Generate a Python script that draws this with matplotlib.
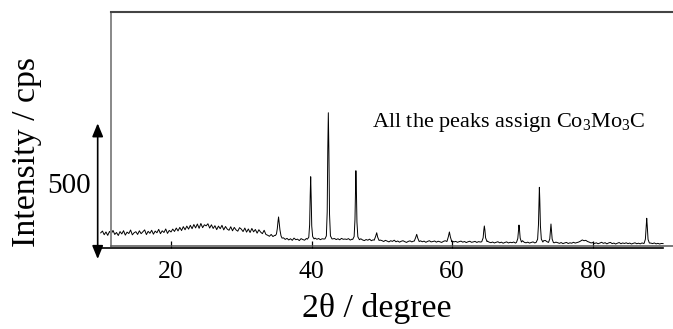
import numpy as np
import matplotlib
matplotlib.use("Agg")
import matplotlib.pyplot as plt

plt.rcParams['font.family'] = ['Liberation Serif', 'DejaVu Serif']
plt.rcParams['mathtext.fontset'] = 'custom'
plt.rcParams['mathtext.rm'] = 'Liberation Serif'
plt.rcParams['mathtext.it'] = 'Liberation Serif:italic'

# ---------------- data ----------------
# noisy background, 10.00 .. 90.00 deg in 0.25 deg steps (cps)
bg_start, bg_step = 10.0, 0.25
background = [
    118, 132, 104, 125, 99, 129, 112, 137, 106, 121, 98, 128, 110, 135, 101, 124, 113, 140, 103, 119,
    127, 106, 134, 112, 126, 141, 105, 130, 115, 138, 108, 132, 119, 145, 112, 134, 121, 148, 114, 137,
    125, 147, 129, 155, 133, 160, 136, 166, 142, 170, 147, 176, 150, 182, 156, 186, 153, 190, 158, 180,
    172, 188, 155, 180, 152, 173, 143, 170, 150, 176, 141, 167, 147, 138, 165, 134, 160, 141, 131, 158,
    147, 128, 155, 124, 148, 121, 152, 126, 144, 116, 142, 124, 112, 138, 106, 100, 92, 106, 90, 99,
    105, 150, 150, 85, 80, 68, 76, 64, 73, 61, 78, 66, 70, 59, 74, 67, 62, 75, 68, 70,
    70, 74, 78, 69, 75, 66, 73, 71, 64, 77, 70, 68, 72, 75, 67, 73, 65, 76, 69, 71,
    68, 74, 63, 70, 66, 72, 68, 61, 73, 64, 59, 67, 62, 70, 58, 65, 60, 66, 57, 63,
    59, 52, 61, 55, 49, 58, 53, 62, 50, 56, 47, 54, 58, 51, 45, 53, 57, 49, 55, 60,
    54, 48, 57, 50, 55, 46, 53, 58, 49, 52, 56, 47, 54, 50, 45, 53, 58, 51, 55, 57,
    56, 49, 53, 46, 51, 55, 47, 52, 44, 50, 54, 46, 49, 53, 45, 51, 48, 52, 55, 58,
    55, 47, 43, 48, 41, 46, 50, 42, 47, 39, 45, 49, 41, 46, 43, 48, 40, 47, 52, 60,
    58, 46, 42, 47, 40, 45, 49, 41, 46, 50, 44, 52, 58, 60, 50, 44, 48, 46, 42, 47,
    43, 38, 44, 36, 41, 45, 37, 42, 39, 46, 40, 44, 48, 55, 64, 58, 61, 52, 47, 41,
    44, 37, 42, 35, 40, 46, 38, 43, 34, 41, 45, 36, 40, 33, 39, 44, 35, 41, 37, 42,
    36, 40, 33, 38, 42, 35, 39, 34, 41, 37, 44, 39, 45, 40, 36, 41, 34, 38, 33, 37,
    36,
]

# diffraction peaks (Co3Mo3C), points read along each peak profile
peak_theta = [
    [34.85, 35.0, 35.12, 35.22, 35.3, 35.38, 35.5, 35.65, 35.8],
    [39.4, 39.6, 39.72, 39.8, 39.87, 39.94, 40.02, 40.15, 40.35],
    [41.9, 42.1, 42.22, 42.3, 42.38, 42.46, 42.55, 42.68, 42.9],
    [45.85, 46.05, 46.17, 46.25, 46.3, 46.37, 46.45, 46.58, 46.8],
    [48.9, 49.1, 49.26, 49.4, 49.6],
    [54.6, 54.8, 54.95, 55.1, 55.3],
    [59.25, 59.45, 59.6, 59.75, 59.95],
    [64.2, 64.4, 64.5, 64.57, 64.65, 64.75, 64.95],
    [69.15, 69.33, 69.43, 69.5, 69.57, 69.67, 69.85],
    [71.95, 72.15, 72.27, 72.35, 72.4, 72.46, 72.55, 72.68, 72.9],
    [73.7, 73.88, 73.98, 74.05, 74.12, 74.22, 74.4],
    [87.3, 87.48, 87.6, 87.67, 87.74, 87.86, 88.05],
]
peak_cps = [
    [98, 110, 150, 205, 240, 200, 140, 95, 78],
    [70, 85, 180, 400, 548, 390, 170, 90, 72],
    [72, 95, 280, 750, 1038, 740, 260, 95, 72],
    [68, 90, 220, 470, 594, 450, 200, 88, 66],
    [62, 90, 119, 85, 60],
    [55, 82, 107, 78, 52],
    [52, 88, 125, 85, 50],
    [50, 80, 140, 171, 140, 80, 52],
    [46, 75, 140, 178, 145, 78, 48],
    [46, 70, 180, 380, 467, 370, 170, 70, 48],
    [45, 72, 145, 186, 140, 70, 44],
    [38, 70, 180, 230, 175, 68, 40],
]

xticks = [20, 40, 60, 80]
yticks = [500]
annotation = r'All the peaks assign Co$_3$Mo$_3$C'
xlabel = '2θ / degree'
ylabel = 'Intensity / cps'

# ---------------- merge background and peaks ----------------
bg_x = bg_start + bg_step * np.arange(len(background))
bg_y = np.array(background, dtype=float)
keep = np.ones(len(bg_x), dtype=bool)
for px in peak_theta:
    keep &= ~((bg_x >= px[0]) & (bg_x <= px[-1]))
xs = np.concatenate([bg_x[keep]] + [np.array(p) for p in peak_theta])
ys = np.concatenate([bg_y[keep]] + [np.array(p, dtype=float) for p in peak_cps])
order = np.argsort(xs)
xs, ys = xs[order], ys[order]

# ---------------- figure ----------------
W, H = 673, 329
fig = plt.figure(figsize=(W / 100, H / 100), dpi=100)
ax = fig.add_axes([100.7 / W, (H - 248.3) / H, 572.3 / W, 236.3 / H])
x0, x1 = 10.0, 91.408
y0, y1 = 0.0, 1809.4
ax.set_xlim(x0, x1)
ax.set_ylim(y0, y1)

ax.plot(xs, ys, color='black', lw=0.7, clip_on=False)

# axis line & ticks
for s in ['left', 'right']:
    ax.spines[s].set_visible(False)
ax.spines['bottom'].set_bounds(9.57, 90)
ax.spines['bottom'].set_linewidth(1.2)
ax.spines['top'].set_bounds(11.465, x1)
ax.spines['top'].set_color('#444444')
ax.spines['top'].set_linewidth(1.5)

ax.set_xticks(xticks)
ax.set_xticklabels([str(t) for t in xticks])
ax.tick_params(axis='x', direction='in', length=5, width=0.9, labelsize=18.5, pad=9)
ax.set_yticks(yticks)
ax.set_yticklabels([str(t) for t in yticks])
ax.tick_params(axis='y', length=0, labelsize=21, pad=7)

# inner frame lines
box_bottom = 21.4
ax.plot([11.465, 11.465], [box_bottom, y1], color='#888888', lw=1.4, clip_on=False)
ax.plot([11.465, x1], [box_bottom, box_bottom], color='#555555', lw=1.1, clip_on=False)

# double-headed intensity arrow
ax.annotate('', xy=(9.57, 957), xytext=(9.57, -82), annotation_clip=False,
            arrowprops=dict(arrowstyle='<|-|>,head_length=0.8,head_width=0.33',
                            mutation_scale=10, lw=1.2, color='black',
                            shrinkA=0, shrinkB=0))

ax.text((372 - 100.7) / 572.3, 0.515, annotation, transform=ax.transAxes, fontsize=16,
        ha='left', va='baseline')

fig.text(377 / W, (H - 317) / H, xlabel, fontsize=24.3, ha='center', va='baseline')
fig.text(27 / W, 1 - 152 / H, ylabel, fontsize=24.4, rotation=90, ha='center', va='center')

fig.savefig('out.png', dpi=100)
